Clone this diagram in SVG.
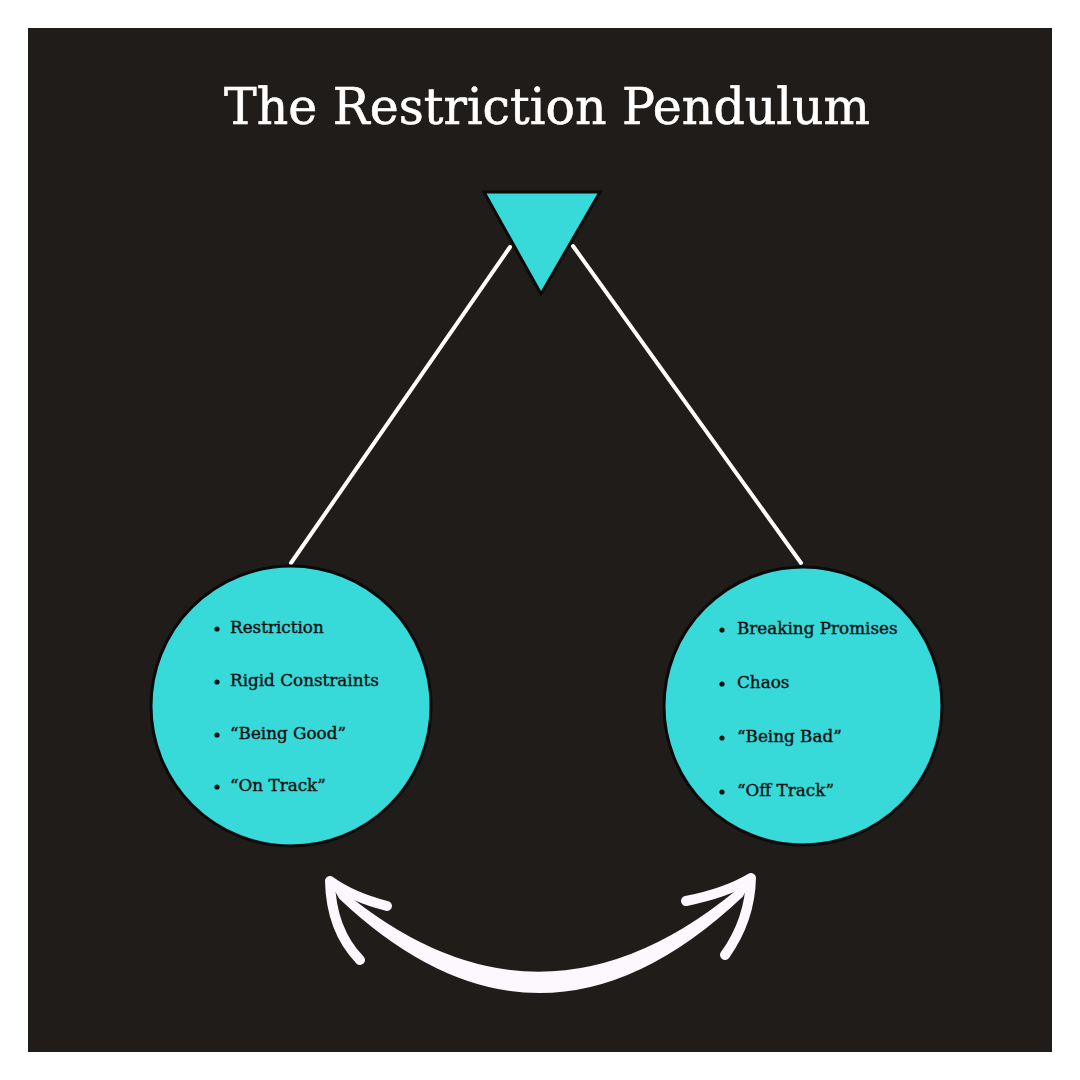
<svg xmlns="http://www.w3.org/2000/svg" width="1080" height="1080" viewBox="0 0 1080 1080">
<style>
.title{font-family:"DejaVu Serif","Liberation Serif",serif;font-size:50px;fill:#ffffff;stroke:#ffffff;stroke-width:0.6px;}
.item{font-family:"DejaVu Serif","Liberation Serif",serif;font-size:16.8px;fill:#111111;stroke:#111111;stroke-width:0.4px;}
.node{fill:#38d9d9;stroke:#0a0a0a;stroke-width:3;}
.dot{fill:#111111;}
.rope{stroke:#ffffff;stroke-width:4;fill:none;stroke-linecap:round;}
.arrow{stroke:#fdf8fd;fill:none;stroke-linecap:round;stroke-linejoin:round;}
</style>
<rect x="0" y="0" width="1080" height="1080" fill="#ffffff"/>
<rect x="28" y="28" width="1024" height="1024" fill="#201c1a"/>
<text class="title" x="547" y="124" text-anchor="middle" textLength="646" lengthAdjust="spacingAndGlyphs">The Restriction Pendulum</text>
<g id="connectors">
<line class="rope" x1="510" y1="247" x2="291" y2="563"/>
<line class="rope" x1="573" y1="246" x2="801" y2="563"/>
<path fill="#fdf8fd" stroke="#fdf8fd" stroke-width="2" stroke-linejoin="round" d="M 331 882 Q 540 1065 751 879 L 742 896 Q 540 1087 340 898 Z"/>
<path class="arrow" stroke-width="10" d="M 387 906 Q 352 897 330 881 Q 331 930 360 960"/>
<path class="arrow" stroke-width="10" d="M 686 901 Q 726 893 751 878 Q 750 920 725 955"/>
</g>
<g id="pivot">
<polygon class="node" stroke-width="4" points="484,192 600,192 541,294"/>
</g>
<g id="left-node">
<circle class="node" cx="291" cy="706" r="140" stroke="#1c1c1c"/>
<circle class="dot" cx="217" cy="629" r="2.6"/>
<text class="item" x="230" y="633">Restriction</text>
<circle class="dot" cx="217" cy="682" r="2.6"/>
<text class="item" x="230" y="686">Rigid Constraints</text>
<circle class="dot" cx="217" cy="735" r="2.6"/>
<text class="item" x="230" y="739">“Being Good”</text>
<circle class="dot" cx="217" cy="787" r="2.6"/>
<text class="item" x="230" y="791">“On Track”</text>
</g>
<g id="right-node">
<circle class="node" cx="803" cy="706" r="139"/>
<circle class="dot" cx="722" cy="630" r="2.6"/>
<text class="item" x="737" y="634">Breaking Promises</text>
<circle class="dot" cx="722" cy="684" r="2.6"/>
<text class="item" x="737" y="688">Chaos</text>
<circle class="dot" cx="722" cy="738" r="2.6"/>
<text class="item" x="737" y="742">“Being Bad”</text>
<circle class="dot" cx="722" cy="792" r="2.6"/>
<text class="item" x="737" y="796">“Off Track”</text>
</g>
</svg>
